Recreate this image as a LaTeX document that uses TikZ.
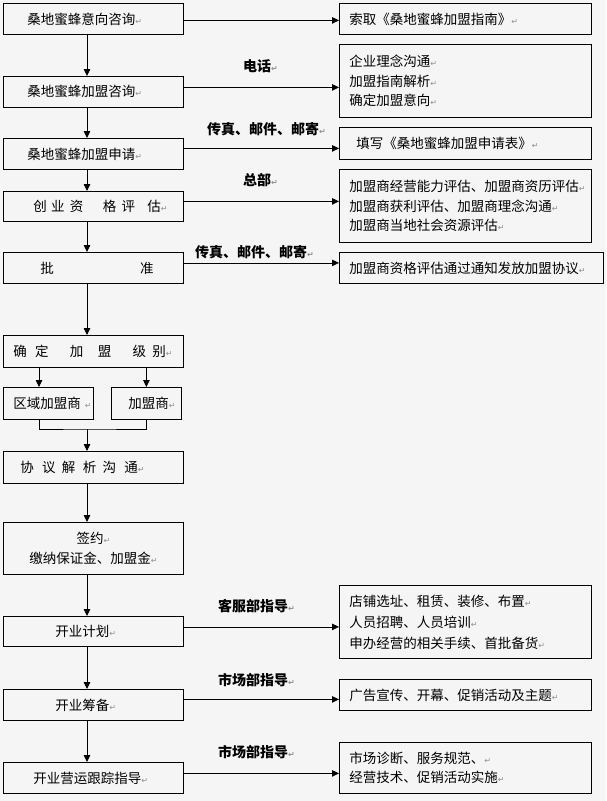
\documentclass[tikz,border=0pt]{standalone}
\usepackage{fontspec}
\usetikzlibrary{arrows.meta}
\setmainfont{Noto Sans CJK SC}
\newfontfamily\djv{DejaVu Sans}
\definecolor{bg}{HTML}{F5F5F5}
\definecolor{markgray}{HTML}{909090}
\newcommand\retmark{{\djv\fontsize{8}{8}\selectfont\textcolor{markgray}{↵}}}
\tikzset{
  box/.style={draw=black, line width=0.8pt, inner sep=0pt, anchor=north west,
    font=\fontsize{13.5}{19.5}\selectfont},
  lbox/.style={box, text width=180pt, align=left},
  rbox/.style={box, inner xsep=10pt, text width=232pt, align=left},
  lab/.style={anchor=west, inner sep=0pt, font=\fontsize{14}{16}\selectfont\bfseries},
  arr/.style={line width=0.8pt, -{Triangle[width=6.5pt,length=7pt]}},
  ln/.style={line width=0.8pt}
}
\begin{document}
\begin{tikzpicture}[x=1pt,y=-1pt]
\fill[bg] (0,0) rectangle (606,801);
\useasboundingbox (0,0) rectangle (606,801);

% left column
\node[lbox, minimum height=31pt] (b1) at (3,3) {\hspace*{24pt}桑地蜜蜂意向咨询\retmark};
\node[lbox, minimum height=31pt] (b2) at (3,76) {\hspace*{24pt}桑地蜜蜂加盟咨询\retmark};
\node[lbox, minimum height=31pt] (b3) at (3,138) {\hspace*{24pt}桑地蜜蜂加盟申请\retmark};
\node[lbox, minimum height=30pt] (b4) at (3,191) {\hspace*{30pt}创\hspace{4.3pt}业\hspace{5.3pt}资\hspace{19.3pt}格\hspace{5.3pt}评\hspace{12.3pt}估\retmark};
\node[lbox, minimum height=31pt] (b5) at (3,252) {\hspace*{37pt}批\hspace{86.3pt}准};
\node[lbox, minimum height=32pt] (b6) at (3,335) {\hspace*{10pt}确\hspace{8.3pt}定\hspace{21.3pt}加\hspace{14.3pt}盟\hspace{21.3pt}级\hspace{6.3pt}别\retmark};
\node[box, text width=90pt, align=left, minimum height=32pt] (b7) at (3,387) {\hspace*{10pt}区域加盟商\hspace{4pt}\retmark\hspace*{-20pt}};
\node[box, text width=70pt, align=left, minimum height=32pt] (b8) at (111,387) {\hspace*{17pt}加盟商\retmark};
\node[lbox, minimum height=32pt] (b9) at (3,451) {\hspace*{17pt}协\hspace{8.3pt}议\hspace{6.3pt}解\hspace{7.3pt}析\hspace{6.3pt}沟\hspace{8.3pt}通\retmark};
\node[box, text width=180pt, align=center, minimum height=52pt, font=\fontsize{13.5}{20.5}\selectfont] (b10) at (3,522) {签约\retmark\\缴纳保证金、加盟金\retmark};
\node[lbox, minimum height=30pt] (b11) at (3,616) {\hspace*{52pt}开业计划\retmark};
\node[lbox, minimum height=31pt] (b12) at (3,689) {\hspace*{52pt}开业筹备\retmark};
\node[lbox, minimum height=31pt] (b13) at (3,762) {\hspace*{30pt}开业营运跟踪指导\retmark};

% right column
\node[rbox, minimum height=31pt] (r1) at (339,3) {索取《桑地蜜蜂加盟指南》\retmark};
\node[rbox, minimum height=73pt] (r2) at (339,44) {企业理念沟通\retmark\\加盟指南解析\retmark\\确定加盟意向\retmark};
\node[rbox, minimum height=32pt] (r3) at (339,127) {\hspace*{7pt}填写《桑地蜜蜂加盟申请表》\retmark};
\node[rbox, minimum height=73pt] (r4) at (339,169) {加盟商经营能力评估、加盟商资历评估\retmark\\加盟商获利评估、加盟商理念沟通\retmark\\加盟商当地社会资源评估\retmark};
\node[box, inner xsep=10pt, text width=244pt, align=left, minimum height=31pt] (r5) at (339,252) {加盟商资格评估通过通知发放加盟协议\retmark};
\node[rbox, minimum height=73pt, font=\fontsize{13.5}{21}\selectfont] (r11) at (339,585) {店铺选址、租赁、装修、布置\retmark\\人员招聘、人员培训\retmark\\申办经营的相关手续、首批备货\retmark};
\node[rbox, minimum height=31pt] (r12) at (339,679) {广告宣传、开幕、促销活动及主题\retmark};
\node[rbox, minimum height=51pt, font=\fontsize{13.5}{18.5}\selectfont] (r13) at (339,742) {市场诊断、服务规范、\retmark\\经营技术、促销活动实施\retmark};

% labels
\node[lab] (l2) at (243,66) {电话\retmark};
\node[lab] (l3) at (207,129) {传真、邮件、邮寄\retmark};
\node[lab] (l4) at (243,180) {总部\retmark};
\node[lab] (l5) at (195,252) {传真、邮件、邮寄\retmark};
\node[lab] (l11) at (218,606) {客服部指导\retmark};
\node[lab] (l12) at (218,680) {市场部指导\retmark};
\node[lab] (l13) at (218,752) {市场部指导\retmark};

% vertical flow
\coordinate (vx) at (87,0);
\coordinate (c7) at (39,0);
\coordinate (m) at (87,429);
\draw[arr] (b1.south -| vx) -- (b2.north -| vx);
\draw[arr] (b2.south -| vx) -- (b3.north -| vx);
\draw[arr] (b3.south -| vx) -- (b4.north -| vx);
\draw[arr] (b4.south -| vx) -- (b5.north -| vx);
\draw[arr] (b5.south -| vx) -- (b6.north -| vx);
\draw[arr] (b6.south -| c7) -- (b7.north -| c7);
\draw[arr] (b6.south -| b8.south) -- (b8.north);
\draw[ln] (b7.south -| c7) |- (m) -| (b8.south);
\draw[arr] (m) -- (b9.north -| vx);
\draw[arr] (b9.south -| vx) -- (b10.north -| vx);
\draw[arr] (b10.south -| vx) -- (b11.north -| vx);
\draw[arr] (b11.south -| vx) -- (b12.north -| vx);
\draw[arr] (b12.south -| vx) -- (b13.north -| vx);

% horizontal connectors
\coordinate (t1) at ([yshift=-1.5pt]b1.east);
\coordinate (t2) at ([yshift=4.5pt]b2.east);
\coordinate (t3) at ([yshift=5.5pt]b3.east);
\coordinate (t4) at ([yshift=5pt]b4.east);
\coordinate (t5) at ([yshift=5pt]b5.east);
\coordinate (t11) at ([yshift=4.5pt]b11.east);
\coordinate (t12) at ([yshift=5.5pt]b12.east);
\coordinate (t13) at ([yshift=4.5pt]b13.east);
\draw[arr] (t1) -- (t1 -| r1.west);
\draw[arr] (t2) -- (t2 -| r2.west);
\draw[arr] (t3) -- (t3 -| r3.west);
\draw[arr] (t4) -- (t4 -| r4.west);
\draw[arr] (t5) -- (t5 -| r5.west);
\draw[arr] (t11) -- (t11 -| r11.west);
\draw[arr] (t12) -- (t12 -| r12.west);
\draw[arr] (t13) -- (t13 -| r13.west);
\end{tikzpicture}
\end{document}
